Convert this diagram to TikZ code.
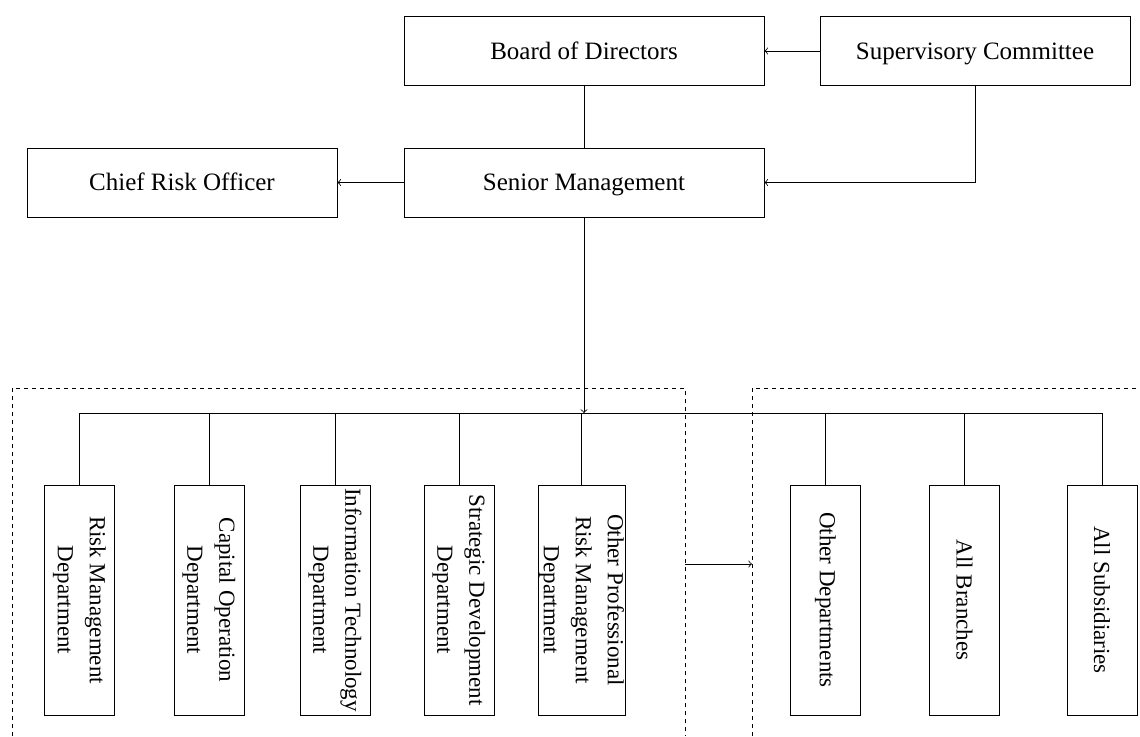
\documentclass[tikz,border=0pt]{standalone}
\usepackage{fontspec}
\setmainfont{Liberation Serif}

\begin{document}
\begin{tikzpicture}[x=0.5pt,y=-0.5pt,
  box/.style={draw, minimum width=180pt, minimum height=34.5pt, inner sep=0pt, text height=10pt, text depth=2pt, font=\fontsize{12.5}{15}\selectfont},
  dept/.style={draw, rotate=-90, minimum width=115pt, minimum height=35pt, inner sep=0pt, align=center, font=\fontsize{11.5}{16}\selectfont},
  frame/.style={dash pattern=on 2pt off 2pt}]
\useasboundingbox (0,0) rectangle (1140,736);
% top of the chart
\node[box] (board) at (584,51) {Board of Directors};
\node[box, minimum width=155pt] (sup) at (975,51) {Supervisory Committee};
\node[box] (senior) at (584,182.5) {Senior Management};
\node[box, minimum width=155pt] (cro) at (182,182.5) {Chief Risk Officer};
\draw[->] (sup.west) -- (board.east) ;
\draw (board) -- (senior) ;
\draw[->] (senior.west) -- (cro.east) ;
\draw[->] (sup.south) |- (senior.east) ;
% departments
\coordinate (bus) at (584,413) ;
\node[dept] (rmd) at (79.5,600) {Risk Management\\Department};
\node[dept] (cod) at (209,600) {Capital Operation\\Department};
\node[dept] (itd) at (335,600) {Information Technology\\Department};
\node[dept] (sdd) at (459,600) {Strategic Development\\Department};
\node[dept, minimum height=43.5pt] (oprm) at (581.5,600) {Other Professional\\Risk Management\\Department};
\node[dept] (othd) at (825.5,600) {Other Departments};
\node[dept] (brn) at (964.5,600) {All Branches};
\node[dept] (subs) at (1102,600) {All Subsidiaries};
\draw[->] (senior.south) -- (bus) ;
\draw (rmd.west |- bus) -- (subs.west |- bus) ;
\foreach \n in {rmd,cod,itd,sdd,oprm,othd,brn,subs} \draw (\n.west) -- (\n.west |- bus) ;
% dashed frames
\draw[frame] (12,736) -- (12,388) -- (685,388) -- (685,736) ;
\draw[frame] (752,736) -- (752,388) -- (1140,388) ;
\coordinate (lf) at (685,564) ;
\coordinate (rf) at (752,564) ;
\draw[->] (lf) -- (rf) ;
\end{tikzpicture}
\end{document}
